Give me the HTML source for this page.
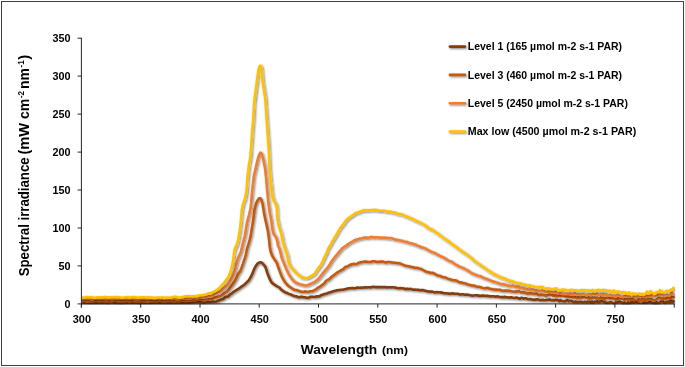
<!DOCTYPE html>
<html><head><meta charset="utf-8"><title>Spectral irradiance</title>
<style>
html,body{margin:0;padding:0;background:#fff;}
svg{display:block;}
text{font-family:"Liberation Sans",sans-serif;font-weight:bold;fill:#000;}
</style></head>
<body>
<svg width="685" height="367" viewBox="0 0 685 367">
<defs>
<filter id="sh" x="0" y="0" width="685" height="367" filterUnits="userSpaceOnUse" primitiveUnits="userSpaceOnUse">
<feGaussianBlur in="SourceAlpha" stdDeviation="1.3"/><feOffset dx="0.5" dy="1.3"/>
<feComponentTransfer><feFuncA type="linear" slope="0.5"/></feComponentTransfer>
<feMerge><feMergeNode/><feMergeNode in="SourceGraphic"/></feMerge>
</filter>
<clipPath id="cp"><rect x="81.4" y="20" width="594" height="284.5"/></clipPath>
</defs>
<rect x="0" y="0" width="685" height="367" fill="#fff"/>
<rect x="1.5" y="1.5" width="682" height="364" fill="#fff" stroke="#3f3f3f" stroke-width="1"/>
<g clip-path="url(#cp)" fill="none" stroke-width="2.6" stroke-linejoin="round" stroke-linecap="butt">
<g filter="url(#sh)"><path d="M81.4,303.0 82.6,303.1 83.8,302.8 85.0,302.6 86.1,302.9 87.3,302.9 88.5,302.8 89.7,302.9 90.9,303.0 92.1,302.9 93.3,302.9 94.4,302.8 95.6,302.7 96.8,302.6 98.0,302.7 99.2,302.9 100.4,302.8 101.6,302.7 102.7,302.6 103.9,302.7 105.1,302.7 106.3,302.9 107.5,303.2 108.7,302.9 109.9,302.1 111.0,302.1 112.2,302.5 113.4,302.7 114.6,302.8 115.8,303.1 117.0,303.2 118.2,302.7 119.3,302.8 120.5,303.3 121.7,303.2 122.9,303.0 124.1,302.6 125.3,302.4 126.5,302.7 127.6,302.7 128.8,302.5 130.0,302.5 131.2,302.6 132.4,302.6 133.6,302.7 134.8,302.8 135.9,302.8 137.1,302.8 138.3,303.0 139.5,303.1 140.7,302.9 141.9,302.7 143.1,302.8 144.2,302.9 145.4,302.8 146.6,302.8 147.8,302.9 149.0,302.8 150.2,302.5 151.4,302.6 152.5,302.8 153.7,302.8 154.9,302.5 156.1,302.5 157.3,302.7 158.5,302.7 159.6,302.9 160.8,302.8 162.0,302.5 163.2,302.8 164.4,303.1 165.6,302.8 166.8,302.7 167.9,302.9 169.1,303.0 170.3,303.0 171.5,302.7 172.7,302.4 173.9,302.5 175.1,302.7 176.2,302.9 177.4,302.7 178.6,302.3 179.8,302.4 181.0,302.8 182.2,302.8 183.4,302.6 184.5,302.6 185.7,302.7 186.9,302.8 188.1,302.8 189.3,302.7 190.5,302.5 191.7,302.5 192.8,302.4 194.0,302.0 195.2,302.1 196.4,302.2 197.6,302.1 198.8,302.2 200.0,302.3 201.1,302.4 202.3,302.4 203.5,302.5 204.7,302.6 205.9,302.3 207.1,301.8 208.3,301.9 209.4,302.3 210.6,302.1 211.8,301.8 213.0,301.8 214.2,301.9 215.4,301.8 216.6,301.5 217.7,300.9 218.9,300.5 220.1,300.1 221.3,299.6 222.5,299.3 223.7,298.7 224.8,297.5 225.9,296.7 227.3,296.7 228.5,296.2 229.6,295.0 230.7,294.0 231.9,293.3 233.1,292.3 234.3,291.3 235.5,290.6 236.7,289.8 237.9,289.1 239.1,288.4 240.3,287.5 241.4,286.6 242.6,285.8 243.8,285.0 245.0,284.1 246.1,282.9 247.3,281.8 248.7,280.5 249.8,278.6 251.0,276.5 252.2,274.1 253.3,271.2 254.5,268.3 255.7,266.1 256.9,264.4 258.0,263.1 259.2,262.6 260.4,262.3 261.5,262.6 262.7,263.6 264.0,265.1 265.3,266.8 266.3,269.6 267.3,272.9 268.4,275.8 269.8,279.1 271.2,281.8 272.3,283.1 273.4,283.9 274.7,284.8 275.9,285.6 277.1,286.3 278.3,287.0 279.5,287.7 280.5,288.8 281.7,290.0 282.9,290.9 284.1,291.7 285.3,292.4 286.5,292.8 287.7,293.3 288.9,293.9 290.0,294.3 291.2,294.6 292.5,295.4 293.7,295.9 294.8,296.1 296.0,296.2 297.2,296.6 298.4,297.3 299.6,297.2 300.7,296.8 301.9,296.9 303.1,297.1 304.3,297.2 305.5,297.4 306.7,297.7 307.9,297.9 309.0,297.5 310.2,296.9 311.4,296.8 312.6,296.8 313.8,297.0 315.0,296.9 316.2,296.5 317.3,296.2 318.6,296.4 319.7,296.1 320.9,295.3 322.1,294.8 323.3,294.5 324.4,294.0 325.6,293.7 326.8,293.5 328.0,292.9 329.2,292.5 330.4,292.2 331.6,291.8 332.7,291.4 333.9,291.1 335.1,290.8 336.3,290.4 337.5,290.2 338.7,290.1 339.9,290.0 341.0,289.8 342.2,289.7 343.4,289.6 344.6,289.3 345.8,289.0 347.0,288.7 348.1,288.4 349.3,288.3 350.5,288.3 351.7,288.1 352.9,288.0 354.1,288.2 355.3,288.2 356.5,287.8 357.6,287.5 358.8,287.8 360.0,287.8 361.2,287.6 362.4,287.7 363.6,287.5 364.8,287.3 365.9,287.4 367.1,287.5 368.3,287.2 369.5,287.2 370.7,287.4 371.9,287.1 373.1,286.8 374.2,287.0 375.4,287.1 376.6,287.1 377.8,287.1 379.0,287.1 380.2,287.1 381.4,287.1 382.5,287.2 383.7,287.1 384.9,287.0 386.1,287.3 387.3,287.4 388.5,287.3 389.7,287.3 390.8,287.4 392.0,287.2 393.2,287.3 394.4,287.6 395.6,287.6 396.8,287.9 398.0,288.2 399.1,288.3 400.3,288.1 401.5,288.2 402.7,288.3 403.9,288.5 405.1,289.1 406.3,288.9 407.4,288.8 408.6,289.1 409.8,289.0 411.0,288.9 412.2,289.4 413.4,289.7 414.6,289.6 415.7,289.7 416.9,289.8 418.1,289.9 419.3,290.1 420.5,290.3 421.7,290.1 422.8,290.1 424.0,290.4 425.2,290.7 426.4,291.1 427.6,291.4 428.8,291.5 430.0,291.6 431.2,291.5 432.3,291.6 433.5,292.1 434.7,292.4 435.9,292.2 437.1,292.1 438.3,292.2 439.4,292.3 440.6,292.4 441.8,292.6 443.0,292.9 444.2,293.2 445.4,293.3 446.6,293.3 447.8,293.5 448.9,293.6 450.1,293.7 451.3,293.5 452.5,293.4 453.7,293.6 454.9,293.7 456.0,293.7 457.2,293.8 458.4,294.0 459.6,294.4 460.8,294.5 462.0,294.3 463.2,294.3 464.3,294.6 465.5,294.7 466.7,294.6 467.9,294.8 469.1,295.0 470.3,295.2 471.5,295.5 472.6,295.6 473.8,295.5 475.0,295.3 476.2,295.2 477.4,295.4 478.6,295.6 479.8,295.9 481.0,295.8 482.1,295.5 483.3,295.6 484.5,295.8 485.7,295.9 486.9,295.8 488.1,295.9 489.2,296.3 490.4,296.4 491.6,296.3 492.8,296.2 494.0,296.3 495.2,296.7 496.4,296.5 497.5,296.3 498.7,296.8 499.9,297.0 501.1,297.1 502.3,297.0 503.5,297.1 504.7,296.9 505.8,297.1 507.0,297.2 508.2,297.5 509.4,297.6 510.6,297.3 511.8,297.4 513.0,297.7 514.2,298.0 515.3,297.9 516.5,297.5 517.7,298.0 518.9,298.4 520.1,298.6 521.2,297.8 522.4,298.1 523.6,298.7 524.8,298.2 526.0,298.2 527.2,299.0 528.4,299.2 529.6,298.9 530.7,299.2 531.9,299.4 533.1,299.9 534.3,299.6 535.5,299.8 536.7,299.3 537.9,299.5 539.0,299.8 540.2,300.3 541.4,300.1 542.6,299.7 543.8,300.2 545.0,300.3 546.2,300.0 547.3,299.9 548.5,299.9 549.7,299.4 550.9,300.2 552.1,300.3 553.3,300.0 554.5,300.5 555.6,299.8 556.8,300.0 558.0,300.3 559.2,301.3 560.4,300.0 561.6,300.9 562.8,301.2 563.9,301.1 565.1,301.4 566.3,300.5 567.5,300.0 568.7,301.4 569.9,300.8 571.0,301.1 572.2,301.0 573.4,302.1 574.6,302.1 575.8,301.5 577.0,302.3 578.2,302.0 579.4,301.9 580.5,302.0 581.7,301.9 582.9,302.3 584.1,302.1 585.3,301.8 586.5,302.4 587.7,301.6 588.8,302.0 590.0,302.1 591.2,302.6 592.4,301.6 593.6,302.7 594.8,301.9 596.0,301.7 597.1,301.4 598.3,302.2 599.5,301.9 600.7,301.3 601.9,301.3 603.1,301.6 604.2,301.6 605.4,302.7 606.6,303.0 607.8,302.7 609.0,302.4 610.2,302.0 611.4,302.3 612.6,302.9 613.7,303.8 614.9,303.0 616.1,302.1 617.3,302.4 618.5,302.0 619.7,301.8 620.8,302.2 622.0,302.5 623.2,303.8 624.4,302.4 625.6,303.4 626.8,303.8 628.0,302.4 629.1,303.7 630.3,303.0 631.5,302.0 632.7,302.6 633.9,302.4 635.1,302.2 636.3,302.2 637.4,302.5 638.6,302.8 639.8,301.6 641.0,302.4 642.2,301.0 643.4,302.6 644.6,303.0 645.7,302.6 646.9,302.7 648.1,302.9 649.3,301.8 650.5,302.1 651.7,302.9 652.9,303.3 654.0,302.7 655.2,304.9 656.4,302.2 657.6,303.3 658.8,303.6 660.0,302.1 661.2,301.4 662.3,301.0 663.5,302.3 664.7,303.3 665.9,302.4 667.1,302.3 668.3,301.6 669.5,302.6 670.6,299.7 671.8,302.2 673.0,302.0 674.2,300.4" stroke="#843C0C"/></g>
<g filter="url(#sh)"><path d="M81.4,301.0 82.6,300.9 83.8,300.6 85.0,300.6 86.1,301.3 87.3,301.4 88.5,301.1 89.7,301.2 90.9,301.1 92.1,301.0 93.3,301.1 94.4,301.0 95.6,300.8 96.8,300.8 98.0,301.0 99.2,301.1 100.4,301.0 101.6,300.9 102.7,300.9 103.9,300.9 105.1,301.1 106.3,301.2 107.5,301.1 108.7,301.0 109.9,300.9 111.0,301.3 112.2,301.4 113.4,300.7 114.6,300.3 115.8,300.6 117.0,301.0 118.2,301.2 119.3,301.3 120.5,301.3 121.7,301.2 122.9,301.1 124.1,301.1 125.3,301.0 126.5,300.8 127.6,300.8 128.8,301.2 130.0,301.3 131.2,300.9 132.4,300.6 133.6,300.9 134.8,301.1 135.9,301.2 137.1,301.1 138.3,300.9 139.5,301.2 140.7,301.2 141.9,300.8 143.1,301.0 144.2,301.3 145.4,301.3 146.6,301.5 147.8,301.7 149.0,301.3 150.2,300.9 151.4,300.9 152.5,301.0 153.7,301.0 154.9,300.9 156.1,301.0 157.3,301.0 158.5,300.7 159.6,300.3 160.8,300.4 162.0,301.0 163.2,301.3 164.4,301.3 165.6,301.1 166.8,300.9 167.9,301.0 169.1,300.9 170.3,300.6 171.5,300.9 172.7,301.3 173.9,301.3 175.1,301.1 176.2,300.9 177.4,300.8 178.6,301.0 179.8,300.9 181.0,300.7 182.2,300.6 183.4,300.6 184.5,300.8 185.7,300.9 186.9,300.8 188.1,300.8 189.3,300.7 190.5,300.5 191.7,300.3 192.8,300.3 194.0,300.3 195.2,300.1 196.4,299.9 197.6,299.8 198.8,299.6 200.0,299.5 201.1,299.7 202.3,299.9 203.5,300.0 204.7,300.1 205.9,300.1 207.1,299.7 208.3,299.4 209.5,299.4 210.6,299.0 211.8,298.7 213.0,298.4 214.2,297.9 215.3,297.5 216.6,297.4 217.7,296.9 218.9,296.4 220.2,296.3 221.4,295.6 222.5,294.7 223.6,293.8 224.8,293.0 226.1,292.2 227.3,291.2 228.5,290.0 229.6,288.5 230.7,287.0 231.8,285.5 233.0,283.8 234.2,282.0 235.5,279.9 236.9,277.0 238.0,274.2 239.1,272.6 240.3,271.0 241.6,267.7 243.0,263.6 244.0,260.3 245.0,257.7 245.9,254.5 247.1,248.6 248.5,244.2 249.7,239.9 250.8,235.4 251.7,229.4 253.1,220.8 254.6,209.5 255.9,204.2 257.0,201.2 258.1,199.6 259.2,198.4 260.4,198.3 261.5,200.1 262.5,203.3 263.8,211.4 265.1,218.4 266.5,224.4 268.0,231.6 269.1,239.8 269.8,247.0 270.7,251.8 272.0,255.3 273.3,257.6 274.5,259.4 275.8,261.2 277.0,263.3 278.2,267.0 279.6,270.9 280.8,274.0 281.8,276.6 282.9,278.7 284.1,280.8 285.3,282.5 286.5,283.9 287.7,285.3 288.9,286.3 290.0,287.0 291.2,287.8 292.4,288.7 293.6,289.5 294.8,290.0 296.0,290.0 297.2,290.3 298.4,290.8 299.6,291.2 300.8,291.6 301.9,291.7 303.1,291.7 304.3,291.6 305.5,291.4 306.7,291.7 307.9,292.0 309.0,291.6 310.2,291.2 311.4,291.3 312.6,291.2 313.8,290.5 315.0,289.8 316.1,289.1 317.3,288.2 318.5,287.4 319.7,286.8 320.9,285.9 322.1,285.0 323.3,284.1 324.5,283.0 325.5,281.5 326.7,280.4 328.0,279.8 329.3,279.1 330.4,277.9 331.6,276.8 332.8,275.8 334.0,275.0 335.2,274.1 336.3,273.1 337.5,272.3 338.7,271.7 339.9,271.0 341.1,270.1 342.3,269.6 343.5,268.8 344.6,267.6 345.7,266.8 347.0,266.5 348.2,266.1 349.3,265.2 350.5,264.6 351.7,264.4 352.9,264.0 354.1,263.8 355.3,264.2 356.5,264.0 357.7,263.3 358.8,262.8 360.0,262.4 361.2,262.0 362.4,262.0 363.6,261.9 364.7,261.5 365.9,261.6 367.1,261.9 368.3,262.0 369.5,262.0 370.7,262.0 371.9,261.6 373.1,261.2 374.2,261.2 375.4,261.6 376.6,261.9 377.8,261.9 379.0,261.8 380.2,261.6 381.4,261.6 382.5,261.6 383.7,261.8 384.9,262.4 386.1,262.4 387.3,262.0 388.5,262.0 389.6,262.1 390.8,262.2 392.0,262.5 393.2,262.5 394.4,262.7 395.6,262.9 396.8,263.0 397.9,263.1 399.1,263.2 400.3,263.6 401.5,264.1 402.7,264.6 403.9,265.1 405.1,265.7 406.3,265.9 407.4,266.0 408.6,266.2 409.8,266.5 411.0,267.0 412.2,267.1 413.4,267.2 414.6,267.7 415.7,267.9 416.9,267.7 418.1,268.1 419.3,268.5 420.4,268.7 421.6,269.2 422.8,269.8 424.0,270.5 425.3,271.3 426.5,271.8 427.6,272.0 428.8,272.3 430.0,272.7 431.1,272.9 432.3,272.9 433.5,273.1 434.7,273.8 435.9,274.7 437.1,275.3 438.3,275.6 439.5,275.8 440.6,276.1 441.9,276.8 443.0,277.3 444.2,277.3 445.4,277.5 446.6,278.0 447.8,278.7 449.0,279.1 450.1,279.3 451.3,279.7 452.5,280.1 453.7,280.2 454.8,280.3 456.0,280.5 457.2,281.0 458.4,281.9 459.6,282.4 460.8,282.3 462.0,282.7 463.2,283.1 464.3,283.3 465.5,283.6 466.7,284.0 467.9,284.5 469.1,284.7 470.3,285.1 471.5,285.5 472.6,285.5 473.8,285.5 475.0,286.0 476.2,286.5 477.4,286.8 478.6,286.8 479.8,286.9 480.9,287.3 482.1,287.7 483.3,288.0 484.5,288.2 485.7,288.1 486.9,287.8 488.0,288.0 489.2,288.6 490.4,288.9 491.6,289.1 492.8,289.3 494.0,289.6 495.2,289.6 496.4,289.5 497.6,289.7 498.7,289.9 499.9,289.8 501.1,290.3 502.3,290.7 503.5,290.7 504.7,290.5 505.8,290.6 507.0,290.5 508.2,290.7 509.4,290.9 510.6,291.1 511.8,291.2 513.0,291.5 514.1,291.7 515.3,291.4 516.5,291.7 517.7,291.2 518.9,291.2 520.1,292.0 521.3,292.4 522.4,292.5 523.6,292.2 524.8,292.7 526.0,293.1 527.2,293.6 528.4,293.4 529.6,293.5 530.7,293.3 531.9,293.5 533.1,293.8 534.3,294.1 535.5,293.8 536.7,293.9 537.9,294.7 539.1,295.2 540.2,294.9 541.4,294.8 542.6,294.7 543.8,295.3 545.0,295.4 546.2,295.8 547.3,295.3 548.5,294.7 549.7,294.8 550.9,294.7 552.1,294.8 553.3,295.9 554.5,295.8 555.6,295.1 556.8,296.2 558.0,295.7 559.2,295.2 560.4,295.8 561.6,295.8 562.7,295.5 563.9,295.1 565.1,296.2 566.3,296.4 567.5,295.4 568.7,296.8 569.9,297.1 571.0,296.7 572.2,297.1 573.4,297.1 574.6,297.0 575.8,297.4 577.0,298.2 578.2,297.1 579.4,297.9 580.5,297.9 581.7,297.4 582.9,297.5 584.1,297.1 585.3,297.4 586.5,297.8 587.7,298.0 588.8,297.4 590.0,299.4 591.2,297.6 592.4,297.9 593.6,297.7 594.8,297.6 596.0,298.6 597.1,297.6 598.3,298.7 599.5,298.7 600.7,297.5 601.9,298.8 603.1,297.9 604.3,300.0 605.4,298.2 606.6,298.0 607.8,297.5 609.0,297.9 610.2,298.5 611.4,298.3 612.5,298.2 613.7,298.6 614.9,299.0 616.1,300.1 617.3,297.9 618.5,298.8 619.7,298.5 620.8,298.1 622.0,298.3 623.2,298.6 624.4,299.8 625.6,299.2 626.8,298.9 628.0,299.8 629.1,299.6 630.3,299.2 631.5,299.7 632.7,298.7 633.9,300.0 635.1,299.9 636.3,299.1 637.4,298.4 638.6,300.8 639.8,299.6 641.0,302.2 642.2,298.9 643.4,300.3 644.6,299.1 645.7,299.7 646.9,300.2 648.1,298.7 649.3,299.3 650.5,299.5 651.7,299.4 652.9,299.9 654.0,300.3 655.2,300.0 656.4,299.4 657.6,298.8 658.8,297.9 660.0,298.3 661.2,298.4 662.3,299.6 663.5,298.4 664.7,297.5 665.9,299.3 667.1,297.7 668.3,297.7 669.5,298.2 670.6,298.8 671.8,295.6 673.0,296.9 674.2,298.2" stroke="#C55A11"/></g>
<g filter="url(#sh)"><path d="M81.4,298.8 82.6,298.3 83.8,298.3 85.0,298.5 86.1,298.4 87.3,298.3 88.5,298.1 89.7,298.2 90.9,298.8 92.1,299.3 93.3,299.0 94.4,298.5 95.6,298.4 96.8,298.3 98.0,298.2 99.2,298.4 100.4,298.6 101.6,298.7 102.7,298.8 103.9,298.7 105.1,298.8 106.3,299.0 107.5,298.8 108.7,298.5 109.9,298.6 111.0,298.9 112.2,299.1 113.4,298.7 114.6,298.6 115.8,298.7 117.0,298.5 118.2,298.5 119.3,298.8 120.5,298.8 121.7,298.8 122.9,298.4 124.1,298.2 125.3,298.4 126.5,298.3 127.6,298.1 128.8,298.6 130.0,298.7 131.2,298.5 132.4,298.3 133.6,298.5 134.8,298.8 135.9,299.0 137.1,299.0 138.3,298.9 139.5,298.9 140.7,298.6 141.9,298.5 143.1,298.7 144.2,298.8 145.4,298.6 146.6,298.5 147.8,298.3 149.0,298.2 150.2,298.6 151.4,298.7 152.5,298.4 153.7,298.4 154.9,298.5 156.1,298.5 157.3,298.2 158.5,298.3 159.6,298.9 160.8,298.8 162.0,298.3 163.2,298.4 164.4,298.6 165.6,298.8 166.8,298.9 167.9,298.7 169.1,298.5 170.3,298.7 171.5,298.9 172.7,298.8 173.9,298.4 175.1,298.4 176.2,298.9 177.4,299.1 178.6,299.0 179.8,299.0 181.0,298.7 182.2,298.4 183.4,298.2 184.5,298.4 185.7,298.6 186.9,298.2 188.1,298.1 189.3,298.3 190.5,298.5 191.7,298.3 192.8,297.9 194.0,297.6 195.2,298.0 196.4,298.3 197.6,298.1 198.8,297.8 200.0,297.5 201.1,297.4 202.3,297.3 203.5,297.1 204.7,296.8 205.9,296.6 207.1,296.5 208.3,296.3 209.5,296.3 210.7,296.4 211.9,296.0 213.0,295.2 214.2,294.3 215.3,293.8 216.5,293.4 217.7,292.7 218.9,292.0 220.1,291.6 221.3,290.9 222.4,289.5 223.6,288.4 224.8,287.4 226.0,286.4 227.4,285.4 228.6,283.9 229.7,282.1 230.9,279.9 232.2,277.5 233.5,274.7 234.8,271.2 235.8,267.3 236.6,263.2 237.7,259.5 239.1,256.1 240.6,252.6 241.7,248.7 242.6,244.5 243.7,240.1 245.0,235.3 245.9,229.6 247.0,222.3 249.0,215.0 250.6,208.3 251.2,202.4 251.7,196.1 252.5,188.4 253.9,175.9 255.8,167.9 257.2,161.6 258.2,157.6 259.3,154.5 260.4,152.7 261.6,153.5 262.5,156.3 263.6,160.7 265.0,167.7 266.0,176.5 267.1,188.8 268.3,202.5 269.8,212.7 271.3,220.6 272.3,228.5 273.5,233.5 274.8,235.5 276.1,237.2 277.2,241.0 278.1,245.7 279.3,248.2 280.6,252.9 281.8,258.1 283.2,261.5 284.4,264.6 285.6,267.3 286.7,269.9 287.9,272.5 288.9,274.6 290.1,276.4 291.3,278.1 292.5,279.6 293.8,281.0 295.0,282.1 296.1,282.9 297.2,283.2 298.4,283.6 299.6,284.1 300.7,284.5 301.9,284.7 303.1,285.0 304.3,285.3 305.5,285.5 306.7,285.3 307.9,285.0 309.0,284.5 310.2,283.9 311.4,283.4 312.5,282.9 313.8,282.4 315.0,281.7 316.2,280.6 317.4,279.7 318.7,278.6 319.8,277.2 320.9,275.7 322.0,274.2 323.2,272.7 324.4,271.4 325.5,269.8 326.8,268.4 328.1,266.9 329.3,265.3 330.4,263.3 331.5,261.5 332.7,259.8 333.9,258.2 335.1,256.7 336.3,255.3 337.5,253.9 338.6,252.5 339.8,251.2 340.9,249.8 342.1,248.5 343.3,247.5 344.6,246.6 345.8,246.0 347.0,245.1 348.1,244.0 349.3,243.3 350.5,242.7 351.7,241.9 352.9,241.4 354.1,240.6 355.2,239.9 356.4,239.6 357.6,239.4 358.8,238.9 360.0,238.5 361.2,238.5 362.4,238.3 363.6,237.8 364.7,237.6 365.9,237.5 367.1,237.6 368.3,237.8 369.5,237.5 370.7,237.0 371.9,236.9 373.1,237.3 374.2,237.6 375.4,237.3 376.6,237.2 377.8,237.3 379.0,237.5 380.2,237.7 381.4,237.5 382.5,237.5 383.7,237.7 384.9,237.6 386.1,237.7 387.3,238.1 388.5,238.1 389.7,238.0 390.8,238.1 392.0,238.3 393.2,238.9 394.4,239.3 395.6,239.6 396.8,239.9 398.0,240.0 399.2,240.1 400.3,240.5 401.5,240.7 402.7,240.9 403.9,241.4 405.1,241.8 406.3,241.9 407.4,242.1 408.7,242.8 409.9,243.3 411.0,243.3 412.2,243.5 413.4,244.1 414.6,244.5 415.7,244.6 416.9,245.3 418.1,245.9 419.3,246.2 420.5,246.9 421.7,247.3 422.8,247.5 424.0,247.9 425.2,248.3 426.4,249.0 427.6,249.9 428.8,250.4 430.0,251.1 431.2,251.7 432.4,252.2 433.5,252.6 434.6,252.9 435.8,253.7 437.1,254.5 438.2,254.9 439.4,255.5 440.6,256.3 441.8,256.7 442.9,257.1 444.2,257.9 445.4,258.8 446.6,259.4 447.8,260.2 449.0,260.9 450.1,261.2 451.2,261.5 452.4,262.2 453.7,263.2 454.9,264.1 456.1,264.8 457.3,265.4 458.4,266.0 459.6,266.6 460.8,267.1 461.9,267.6 463.1,268.0 464.3,268.6 465.5,269.3 466.7,269.9 467.9,270.6 469.1,271.4 470.3,272.3 471.6,273.2 472.7,273.6 473.8,273.9 475.0,274.5 476.2,275.0 477.4,275.4 478.6,276.0 479.7,276.0 480.9,276.2 482.1,277.1 483.3,277.8 484.5,278.3 485.7,278.5 486.9,278.9 488.1,279.6 489.2,279.9 490.4,280.5 491.7,281.1 492.8,281.4 494.0,281.6 495.2,282.1 496.4,282.5 497.5,282.7 498.7,283.2 499.9,283.8 501.1,284.2 502.3,284.0 503.5,284.1 504.7,284.6 505.8,284.8 507.0,285.2 508.2,285.5 509.4,285.9 510.6,285.8 511.8,285.8 512.9,285.6 514.1,286.2 515.3,287.0 516.5,286.9 517.7,286.9 518.9,287.1 520.1,287.8 521.3,288.0 522.4,288.0 523.6,288.6 524.8,288.9 526.0,289.1 527.2,289.2 528.4,289.9 529.6,289.8 530.7,289.6 531.9,289.6 533.1,289.9 534.3,290.4 535.5,290.3 536.7,290.8 537.9,291.0 539.1,291.3 540.2,291.3 541.4,290.9 542.6,290.4 543.8,291.3 545.0,291.8 546.2,291.8 547.3,291.9 548.5,291.7 549.7,291.7 550.9,291.8 552.1,292.8 553.3,292.5 554.4,292.2 555.6,291.9 556.8,292.6 558.0,293.5 559.2,293.2 560.4,292.8 561.6,293.8 562.8,294.0 563.9,293.9 565.1,293.9 566.3,294.1 567.5,294.0 568.7,294.0 569.9,293.5 571.1,294.5 572.2,294.2 573.4,294.9 574.6,293.2 575.8,294.4 577.0,294.7 578.2,294.1 579.4,294.5 580.5,294.7 581.7,294.6 582.9,294.1 584.1,294.3 585.3,294.9 586.5,295.1 587.7,294.5 588.8,294.4 590.0,294.5 591.2,294.9 592.4,293.9 593.6,293.7 594.8,294.5 595.9,293.9 597.1,294.2 598.3,294.7 599.5,295.0 600.7,294.1 601.9,295.3 603.1,293.9 604.3,295.4 605.4,294.2 606.6,294.5 607.8,295.8 609.0,295.2 610.2,295.0 611.4,295.3 612.6,296.0 613.7,295.7 614.9,295.8 616.1,296.6 617.3,295.3 618.5,295.5 619.7,295.5 620.8,296.8 622.0,296.7 623.2,297.0 624.4,296.0 625.6,295.9 626.8,296.7 628.0,295.8 629.1,296.7 630.3,296.7 631.5,295.5 632.7,296.1 633.9,296.0 635.1,297.6 636.3,298.4 637.4,296.1 638.6,296.2 639.8,294.2 641.0,296.4 642.2,296.2 643.4,295.2 644.6,296.9 645.7,294.7 646.9,295.9 648.1,296.1 649.3,294.7 650.5,296.6 651.7,296.6 652.8,294.2 654.0,294.1 655.2,295.8 656.4,295.1 657.6,293.8 658.8,294.6 660.0,294.7 661.2,294.6 662.3,295.5 663.5,294.9 664.7,296.3 665.9,295.8 667.1,294.9 668.3,295.3 669.5,295.4 670.6,294.7 671.8,292.5 673.0,294.6 674.2,293.7" stroke="#ED7D31"/></g>
<g filter="url(#sh)"><path d="M81.4,297.2 82.6,297.5 83.8,297.8 85.0,297.6 86.1,297.1 87.3,297.1 88.5,297.3 89.7,297.2 90.9,297.1 92.1,297.3 93.3,297.7 94.4,297.8 95.6,297.7 96.8,297.4 98.0,297.4 99.2,297.5 100.4,297.3 101.6,297.4 102.7,297.4 103.9,297.1 105.1,297.1 106.3,297.2 107.5,297.4 108.7,297.6 109.9,297.5 111.0,297.2 112.2,297.1 113.4,297.3 114.6,297.2 115.8,297.0 117.0,297.1 118.2,297.2 119.3,297.2 120.5,297.5 121.7,297.7 122.9,297.8 124.1,297.6 125.3,297.2 126.5,297.1 127.6,297.3 128.8,297.6 130.0,297.6 131.2,297.3 132.4,297.1 133.6,297.1 134.8,297.2 135.9,297.3 137.1,297.6 138.3,297.8 139.5,297.5 140.7,297.4 141.9,297.4 143.1,297.3 144.2,297.3 145.4,297.5 146.6,297.5 147.8,297.4 149.0,297.6 150.2,297.6 151.4,297.6 152.5,297.8 153.7,297.9 154.9,297.9 156.1,297.7 157.3,297.6 158.5,297.5 159.6,297.5 160.8,297.7 162.0,297.4 163.2,297.5 164.4,297.9 165.6,297.7 166.8,297.5 167.9,297.8 169.1,297.8 170.3,297.7 171.5,297.4 172.7,297.2 173.9,296.8 175.1,296.7 176.2,297.0 177.4,297.3 178.6,297.7 179.8,297.7 181.0,297.3 182.2,297.1 183.4,296.9 184.5,296.6 185.7,296.3 186.9,296.1 188.1,296.1 189.3,296.2 190.5,296.2 191.7,296.3 192.9,296.4 194.0,296.2 195.2,296.1 196.4,296.1 197.6,295.9 198.8,295.5 200.0,295.3 201.1,295.2 202.3,295.2 203.5,295.0 204.7,294.7 205.9,294.4 207.1,294.0 208.3,293.5 209.4,293.2 210.6,293.1 211.8,292.7 213.0,292.1 214.2,291.6 215.4,290.8 216.6,290.1 217.8,289.4 218.9,288.3 220.1,287.1 221.2,285.9 222.4,284.6 223.7,283.3 224.9,281.7 226.2,279.9 227.6,278.2 228.8,276.3 229.8,273.7 231.1,269.8 232.8,262.9 233.9,254.8 234.5,249.6 235.6,247.1 237.0,244.3 238.3,239.1 239.5,232.6 240.4,225.8 241.0,219.5 241.6,211.6 242.8,205.0 244.7,199.6 246.4,192.4 247.5,177.0 249.0,164.5 250.4,157.0 251.1,147.8 252.1,132.7 253.2,120.0 254.1,103.3 255.4,93.0 256.9,81.2 258.4,70.5 259.3,66.9 260.4,65.6 261.6,68.2 262.6,81.8 263.8,89.1 265.3,98.5 266.4,114.9 267.5,131.7 268.7,147.5 269.6,169.0 270.7,181.1 272.3,195.9 273.6,200.3 274.8,202.1 276.2,204.7 276.9,208.2 277.1,217.6 279.0,227.1 280.9,232.1 281.9,236.3 282.7,241.1 284.0,245.9 285.6,250.3 287.0,254.3 288.0,259.4 289.1,263.8 290.3,266.0 291.3,267.3 292.4,268.5 293.6,270.0 294.8,271.5 296.0,272.7 297.2,273.9 298.3,274.6 299.5,275.4 300.8,276.6 302.0,277.4 303.1,277.6 304.3,277.9 305.5,278.0 306.7,278.0 307.8,277.8 309.0,277.3 310.2,276.5 311.4,275.8 312.6,275.1 313.9,274.4 315.1,273.0 316.2,271.2 317.3,269.5 318.5,267.9 319.8,266.4 321.0,264.6 322.1,262.5 323.2,260.3 324.2,257.8 325.5,255.2 326.8,252.6 327.7,249.8 328.9,247.3 330.4,245.1 331.6,242.9 332.8,240.7 334.0,238.7 335.2,236.8 336.5,234.8 337.6,232.7 338.7,230.6 340.0,228.6 341.2,226.8 342.5,225.3 343.7,223.9 344.7,222.3 345.8,220.7 346.9,219.4 348.1,218.4 349.3,217.6 350.5,216.7 351.7,215.8 352.9,215.1 354.1,214.3 355.2,213.3 356.4,212.7 357.7,212.5 358.9,212.0 360.0,211.5 361.2,211.3 362.4,210.8 363.6,210.3 364.7,210.1 365.9,210.3 367.1,210.4 368.3,210.4 369.5,210.2 370.7,210.0 371.9,210.0 373.1,210.1 374.2,209.9 375.4,209.9 376.6,210.1 377.8,210.4 379.0,210.7 380.2,210.8 381.4,210.8 382.5,210.7 383.7,210.7 384.9,210.9 386.1,211.2 387.3,211.5 388.5,211.6 389.7,211.6 390.8,211.9 392.0,212.1 393.2,212.2 394.4,212.4 395.6,212.9 396.8,213.7 398.0,213.9 399.2,214.0 400.3,214.0 401.5,214.3 402.7,214.9 403.9,215.5 405.1,215.9 406.2,216.3 407.5,216.9 408.7,217.5 409.8,217.8 411.0,218.3 412.2,218.8 413.4,219.4 414.6,220.2 415.8,220.8 416.9,221.1 418.1,221.7 419.3,222.4 420.5,222.8 421.6,223.3 422.8,224.0 424.0,224.7 425.3,225.6 426.5,226.6 427.7,227.6 428.9,228.2 430.0,228.7 431.2,229.2 432.3,229.9 433.5,230.5 434.7,231.3 435.9,232.4 437.1,233.1 438.2,233.7 439.4,234.7 440.7,235.9 441.9,236.8 443.0,237.5 444.2,238.3 445.4,239.1 446.5,239.9 447.7,240.9 448.9,241.7 450.1,242.5 451.3,243.5 452.5,244.3 453.6,245.1 454.8,246.0 456.0,246.8 457.2,247.8 458.4,248.8 459.6,249.5 460.8,250.5 462.0,251.5 463.2,252.1 464.3,252.9 465.6,253.8 466.7,254.5 467.9,255.3 469.1,256.2 470.3,257.2 471.5,258.1 472.6,259.2 473.9,260.4 475.0,261.3 476.2,262.0 477.3,262.8 478.5,263.7 479.8,264.6 481.0,265.6 482.2,266.3 483.3,266.8 484.5,267.7 485.7,268.8 486.9,269.5 488.1,270.3 489.3,271.2 490.5,271.9 491.6,272.5 492.8,273.3 494.1,274.2 495.2,274.8 496.4,275.1 497.5,275.7 498.7,276.2 499.9,277.0 501.1,277.6 502.3,277.9 503.4,278.1 504.6,278.5 505.8,279.3 507.0,279.8 508.2,280.2 509.4,280.7 510.6,280.8 511.8,281.1 512.9,281.4 514.1,281.9 515.4,283.0 516.5,282.9 517.7,283.1 518.9,283.4 520.0,283.0 521.2,283.8 522.4,284.3 523.6,284.4 524.8,284.8 526.0,284.7 527.2,285.4 528.4,285.8 529.5,285.2 530.7,285.5 531.9,286.2 533.1,286.5 534.3,286.6 535.5,287.1 536.7,287.2 537.8,286.9 539.0,287.3 540.2,287.0 541.4,286.8 542.6,287.0 543.8,288.4 545.0,288.6 546.2,289.2 547.3,288.2 548.5,288.5 549.7,289.0 550.9,289.0 552.1,289.3 553.3,289.2 554.4,288.8 555.6,288.2 556.8,289.0 558.0,290.3 559.2,290.2 560.4,290.3 561.6,289.6 562.8,289.6 563.9,289.5 565.1,290.1 566.3,290.1 567.5,290.4 568.7,291.0 569.9,289.9 571.1,290.5 572.2,289.7 573.4,290.8 574.6,290.2 575.8,290.4 577.0,290.6 578.2,291.3 579.4,290.6 580.5,290.2 581.7,289.9 582.9,290.6 584.1,290.1 585.3,290.3 586.5,290.5 587.7,290.9 588.8,290.2 590.0,290.9 591.2,291.4 592.4,289.8 593.6,291.2 594.8,291.6 595.9,290.1 597.1,290.7 598.3,289.6 599.5,290.5 600.7,290.2 601.9,290.6 603.1,289.9 604.2,290.1 605.4,290.5 606.6,290.4 607.8,290.7 609.0,291.1 610.2,290.7 611.4,291.5 612.6,292.0 613.7,290.4 614.9,292.2 616.1,291.7 617.3,291.5 618.5,291.5 619.7,292.0 620.8,292.2 622.0,293.0 623.2,291.9 624.4,293.7 625.6,292.4 626.8,293.6 628.0,294.0 629.1,292.3 630.3,294.1 631.5,295.1 632.7,293.2 633.9,294.2 635.1,293.7 636.3,294.0 637.4,293.8 638.6,293.5 639.8,294.5 641.0,294.6 642.2,293.7 643.4,294.9 644.6,294.3 645.8,293.4 646.9,291.6 648.1,293.8 649.3,293.4 650.4,291.1 651.7,292.4 652.9,293.0 654.1,294.1 655.3,293.8 656.4,292.0 657.6,292.0 658.8,292.1 660.0,290.1 661.2,292.1 662.3,291.5 663.5,292.2 664.7,292.1 665.9,291.0 667.1,290.9 668.3,291.3 669.5,290.7 670.6,289.6 671.9,290.2 673.0,288.4 674.2,287.3" stroke="#FFC000"/></g>
</g>
<path d="M81.4,37.7V307.6M81.4,303.9H674.6M81.4,303.9V307.6M140.7,303.9V307.6M200.0,303.9V307.6M259.2,303.9V307.6M318.5,303.9V307.6M377.8,303.9V307.6M437.1,303.9V307.6M496.4,303.9V307.6M555.6,303.9V307.6M614.9,303.9V307.6M674.2,303.9V307.6M77.6,303.9H81.4M77.6,265.9H81.4M77.6,228.0H81.4M77.6,190.0H81.4M77.6,152.1H81.4M77.6,114.1H81.4M77.6,76.1H81.4M77.6,38.2H81.4" fill="none" stroke="#262626" stroke-width="1"/>
<g font-size="10.4"><text x="72.8" y="323.3" textLength="18.2" lengthAdjust="spacingAndGlyphs">300</text><text x="132.1" y="323.3" textLength="18.2" lengthAdjust="spacingAndGlyphs">350</text><text x="191.4" y="323.3" textLength="18.2" lengthAdjust="spacingAndGlyphs">400</text><text x="250.6" y="323.3" textLength="18.2" lengthAdjust="spacingAndGlyphs">450</text><text x="309.9" y="323.3" textLength="18.2" lengthAdjust="spacingAndGlyphs">500</text><text x="369.2" y="323.3" textLength="18.2" lengthAdjust="spacingAndGlyphs">550</text><text x="428.5" y="323.3" textLength="18.2" lengthAdjust="spacingAndGlyphs">600</text><text x="487.8" y="323.3" textLength="18.2" lengthAdjust="spacingAndGlyphs">650</text><text x="547.0" y="323.3" textLength="18.2" lengthAdjust="spacingAndGlyphs">700</text><text x="606.3" y="323.3" textLength="18.2" lengthAdjust="spacingAndGlyphs">750</text><text x="64.5" y="307.5" textLength="6.0" lengthAdjust="spacingAndGlyphs">0</text><text x="58.4" y="269.5" textLength="12.1" lengthAdjust="spacingAndGlyphs">50</text><text x="52.4" y="231.6" textLength="18.1" lengthAdjust="spacingAndGlyphs">100</text><text x="52.4" y="193.6" textLength="18.1" lengthAdjust="spacingAndGlyphs">150</text><text x="52.4" y="155.7" textLength="18.1" lengthAdjust="spacingAndGlyphs">200</text><text x="52.4" y="117.7" textLength="18.1" lengthAdjust="spacingAndGlyphs">250</text><text x="52.4" y="79.7" textLength="18.1" lengthAdjust="spacingAndGlyphs">300</text><text x="52.4" y="41.8" textLength="18.1" lengthAdjust="spacingAndGlyphs">350</text></g>
<g font-size="10"><path d="M449.9,46.6H464.9" stroke="#843C0C" stroke-width="2.6" stroke-linecap="round" fill="none" filter="url(#sh)"/><text x="467.8" y="50.2" textLength="154.3" lengthAdjust="spacingAndGlyphs">Level 1 (165 µmol m-2 s-1 PAR)</text><path d="M449.9,74.9H464.9" stroke="#C55A11" stroke-width="2.6" stroke-linecap="round" fill="none" filter="url(#sh)"/><text x="467.8" y="78.5" textLength="154.3" lengthAdjust="spacingAndGlyphs">Level 3 (460 µmol m-2 s-1 PAR)</text><path d="M449.9,103.2H464.9" stroke="#ED7D31" stroke-width="2.6" stroke-linecap="round" fill="none" filter="url(#sh)"/><text x="467.8" y="106.8" textLength="160.1" lengthAdjust="spacingAndGlyphs">Level 5 (2450 µmol m-2 s-1 PAR)</text><path d="M449.9,131.5H464.9" stroke="#FFC000" stroke-width="2.6" stroke-linecap="round" fill="none" filter="url(#sh)"/><text x="467.8" y="135.1" textLength="168.4" lengthAdjust="spacingAndGlyphs">Max low (4500 µmol m-2 s-1 PAR)</text></g>
<text x="300.8" y="353.5" font-size="13.3" textLength="76.4" lengthAdjust="spacingAndGlyphs">Wavelength</text>
<text x="382" y="353.5" font-size="10.4" textLength="25.9" lengthAdjust="spacingAndGlyphs">(nm)</text>
<g transform="translate(28.5,276.6) rotate(-90)" font-size="13.8">
<text x="0.3" y="0" textLength="118.9" lengthAdjust="spacingAndGlyphs">Spectral irradiance</text>
<text x="122" y="0" textLength="31.8" lengthAdjust="spacingAndGlyphs">(mW</text>
<text x="157.6" y="0" textLength="20.3" lengthAdjust="spacingAndGlyphs">cm</text>
<text x="178.5" y="-4.1" font-size="8.6" textLength="7.2" lengthAdjust="spacingAndGlyphs">-2</text>
<text x="187.7" y="0" textLength="20.9" lengthAdjust="spacingAndGlyphs">nm</text>
<text x="209.2" y="-4.1" font-size="8.6" textLength="7.2" lengthAdjust="spacingAndGlyphs">-1</text>
<text x="216.9" y="0" textLength="5.0" lengthAdjust="spacingAndGlyphs">)</text>
</g>
</svg>
</body></html>
